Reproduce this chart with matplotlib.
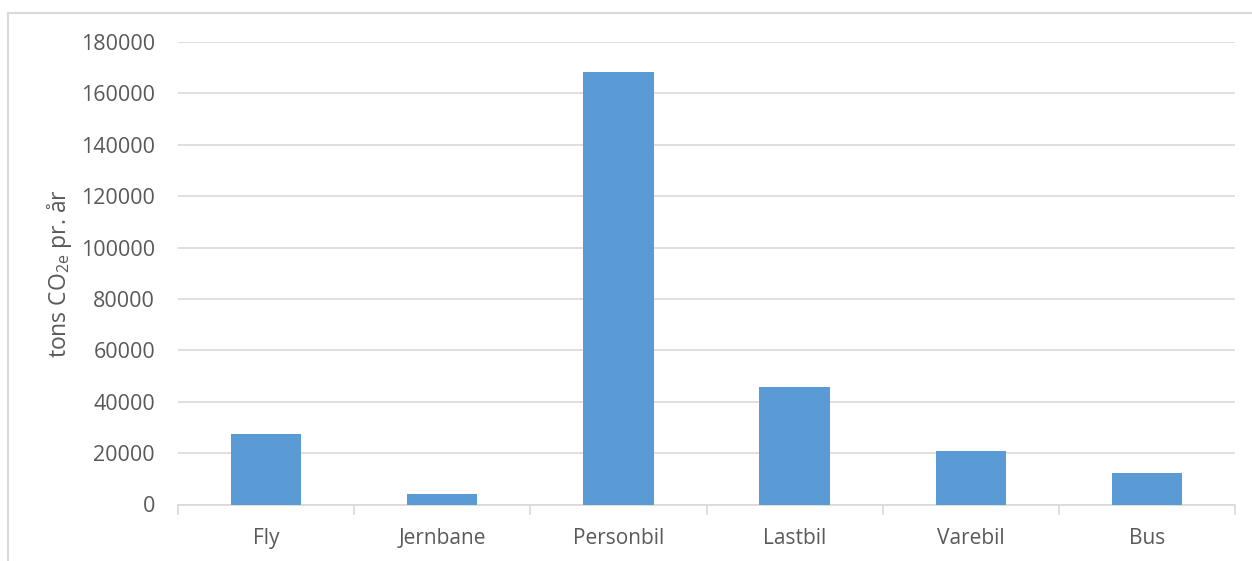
import matplotlib
matplotlib.use("Agg")
import matplotlib.pyplot as plt
from matplotlib.lines import Line2D
import numpy as np

categories = ["Fly", "Jernbane", "Personbil", "Lastbil", "Varebil", "Bus"]
values = [27400, 4100, 168400, 45800, 20800, 12100]
yticks = [0, 20000, 40000, 60000, 80000, 100000, 120000, 140000, 160000, 180000]

plt.rcParams['font.family'] = ['Open Sans', 'DejaVu Sans']
plt.rcParams['mathtext.fontset'] = 'custom'
plt.rcParams['mathtext.rm'] = 'Open Sans'

W, H = 1252, 561
fig = plt.figure(figsize=(W / 100, H / 100), dpi=100)
ax = fig.add_axes([178 / W, 1 - 504.5 / H, (1235 - 178) / W, (504.5 - 42) / H])

txt = '#595959'
grid = '#d9d9d9'
x = np.arange(len(categories))
ax.bar(x, values, width=0.4, color='#5B9BD5', zorder=3)
ax.set_xlim(-0.5, len(categories) - 0.5)
ax.set_ylim(0, 180000)
ax.set_yticks(yticks)
ax.set_yticklabels([str(v) for v in yticks], fontsize=15.5, color=txt)
ax.set_xticks(x)
ax.set_xticklabels(categories, fontsize=15, color=txt)
ax.set_xticks(np.arange(-0.5, len(categories), 1.0), minor=True)
ax.tick_params(axis='x', which='major', length=0, pad=17)
ax.tick_params(axis='x', which='minor', length=7, color=grid, width=1.2)
ax.tick_params(axis='y', length=0, pad=16.5)
ax.grid(axis='y', color=grid, linewidth=1.2, zorder=0)
for s in ['top', 'left', 'right']:
    ax.spines[s].set_visible(False)
ax.spines['bottom'].set_color(grid)
ax.spines['bottom'].set_linewidth(1.2)
ax.set_ylabel(r'tons CO$_{\mathregular{2e}}$ pr. år', fontsize=16.5, color=txt, labelpad=5)

# figure border (left and top)
fig.add_artist(Line2D([8 / W, 8 / W], [0, 1 - 13 / H], color=grid, linewidth=1.5, transform=fig.transFigure))
fig.add_artist(Line2D([8 / W, 1], [1 - 13 / H, 1 - 13 / H], color=grid, linewidth=1.5, transform=fig.transFigure))

fig.savefig('out.png', dpi=100)
